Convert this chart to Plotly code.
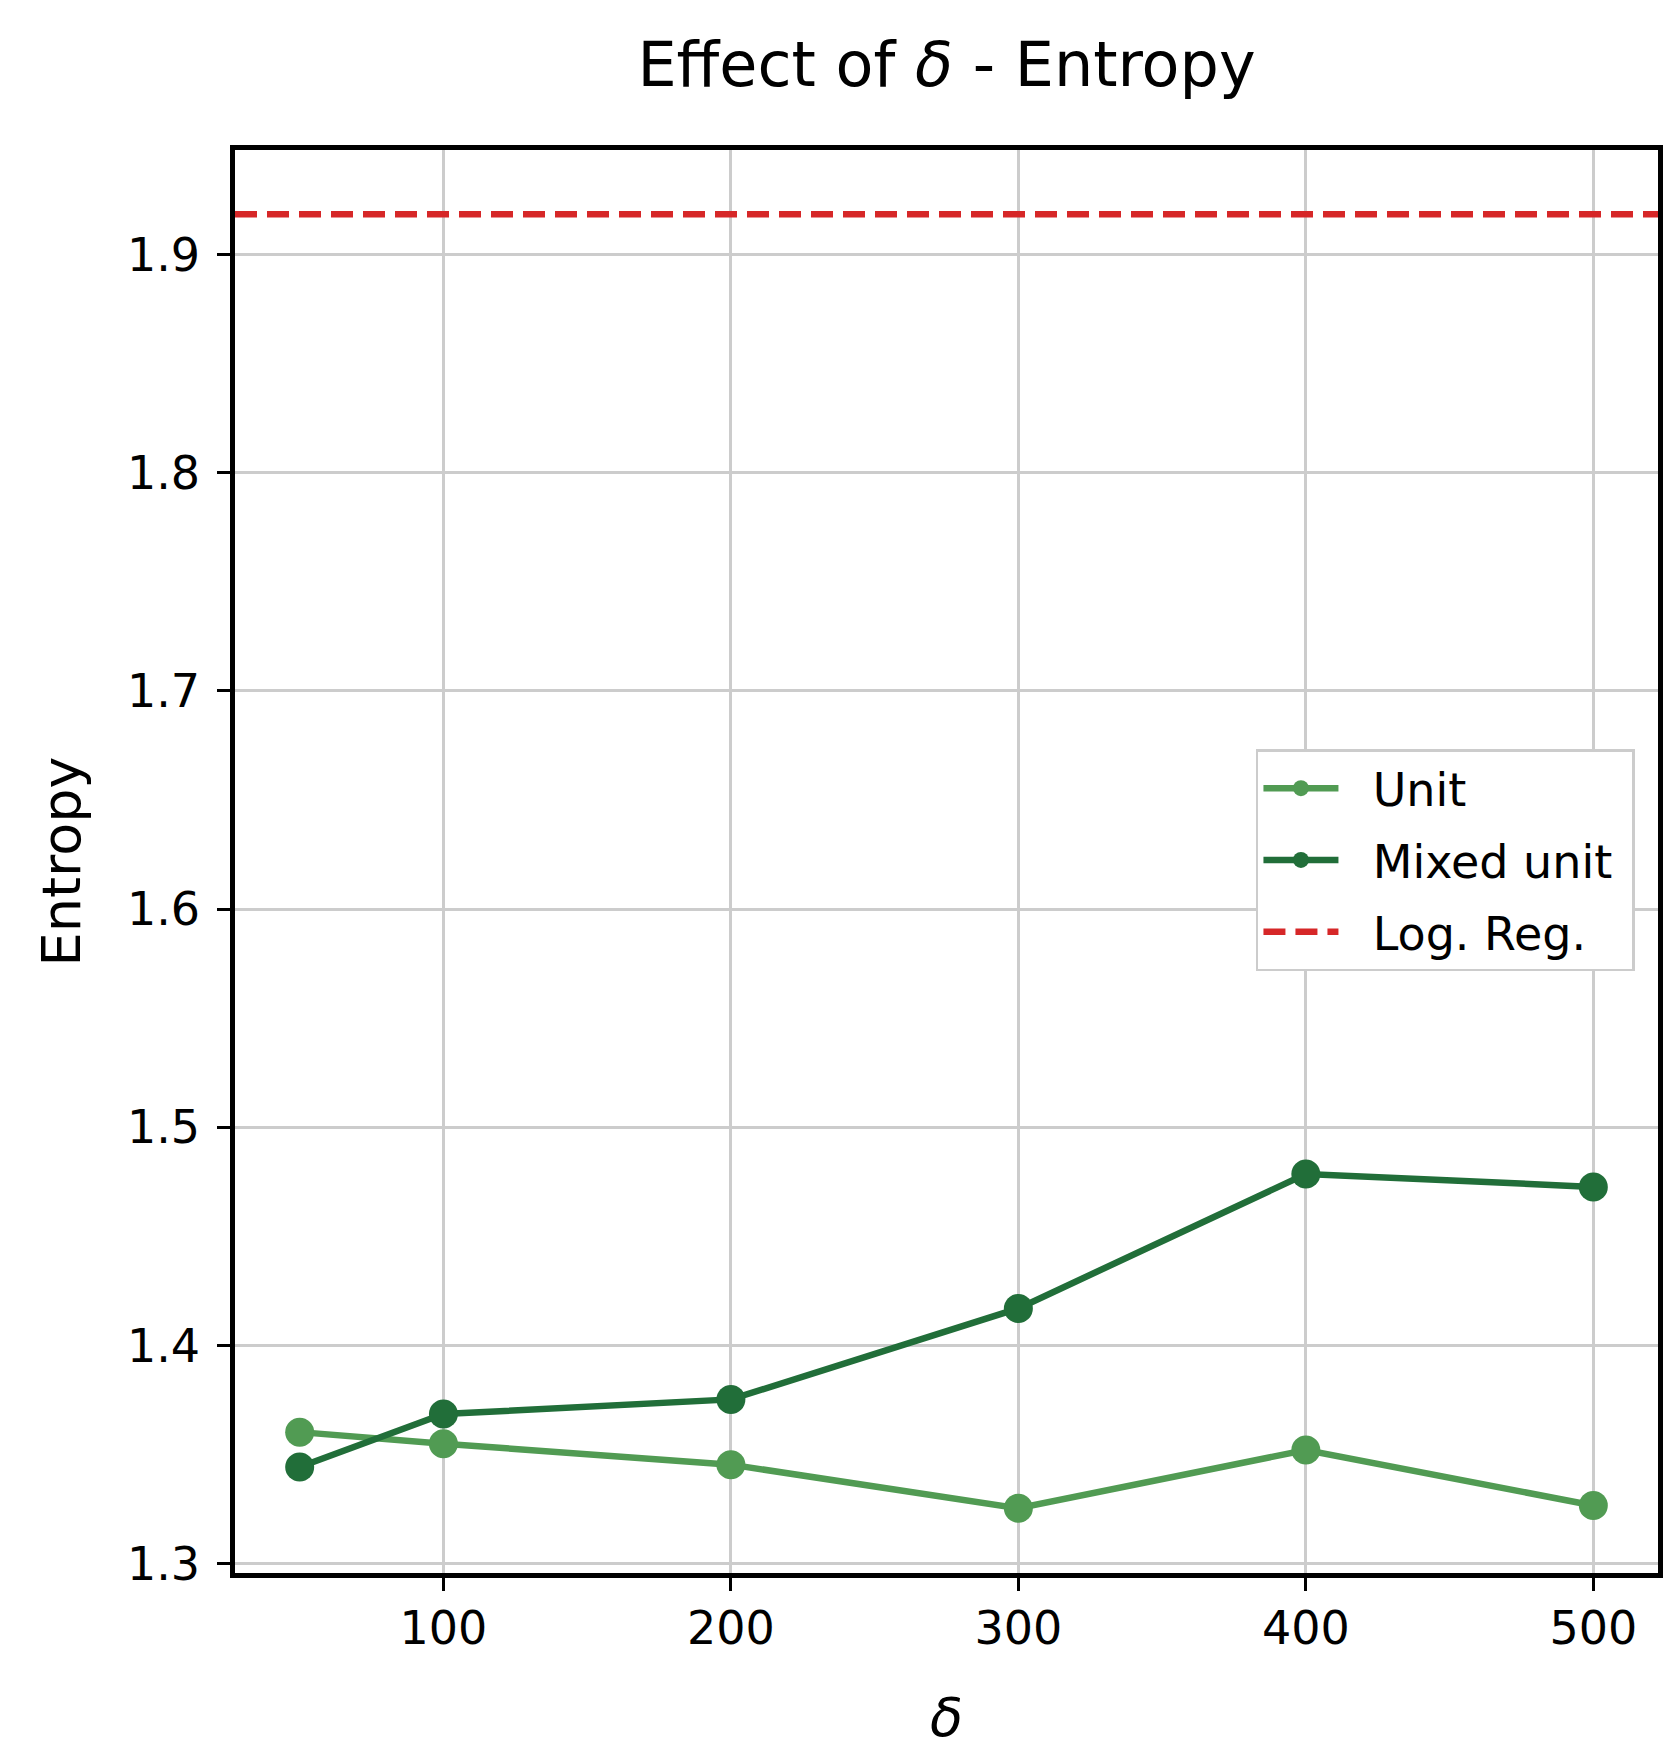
import plotly.graph_objects as go

delta = [50, 100, 200, 300, 400, 500]
unit_entropy = [1.3603, 1.3550, 1.3454, 1.3254, 1.3521, 1.3267]
mixed_unit_entropy = [1.3443, 1.3686, 1.3753, 1.4170, 1.4786, 1.4727]
log_reg_entropy = 1.9185
x_ticks = [100, 200, 300, 400, 500]
y_ticks = [1.3, 1.4, 1.5, 1.6, 1.7, 1.8, 1.9]
x_range = [27.5, 522.5]
y_range = [1.29574, 1.9479]
series_names = ["Unit", "Mixed unit", "Log. Reg."]

FONT = "DejaVu Sans"
C_UNIT = "#519b53"
C_MIXED = "#216e39"
C_RED = "#d62728"
SP = "\u00a0"


def legend_label(name):
    return SP * 2 + name + SP


fig = go.Figure()
fig.add_trace(go.Scatter(
    x=delta, y=unit_entropy, mode="lines+markers", name=legend_label(series_names[0]),
    line=dict(color=C_UNIT, width=6.5), marker=dict(color=C_UNIT, size=29),
    legendgroup="a"))
fig.add_trace(go.Scatter(
    x=delta, y=mixed_unit_entropy, mode="lines+markers", name=legend_label(series_names[1]),
    line=dict(color=C_MIXED, width=6.5), marker=dict(color=C_MIXED, size=29),
    legendgroup="b"))
fig.add_trace(go.Scatter(
    x=x_range, y=[log_reg_entropy, log_reg_entropy], mode="lines", name=legend_label(series_names[2]),
    line=dict(color=C_RED, width=6.5, dash="22px,10px"), legendgroup="c"))

axis_common = dict(
    showline=True, linecolor="black", linewidth=4.5, mirror=True,
    showgrid=True, gridcolor="#cccccc", gridwidth=3,
    ticks="outside", ticklen=13, tickwidth=3.3, tickcolor="black",
    tickfont=dict(family=FONT, size=46, color="black"),
    zeroline=False, automargin=False,
)

fig.update_xaxes(range=x_range, tickvals=x_ticks, ticktext=[str(v) for v in x_ticks],
                 title=dict(text="<i>δ</i>", font=dict(family=FONT, size=54, color="black"), standoff=46),
                 ticklabelstandoff=-2, **axis_common)
fig.update_yaxes(range=y_range, tickvals=y_ticks, ticktext=[f"{v:.1f}" for v in y_ticks],
                 title=dict(text="Entropy", font=dict(family=FONT, size=54, color="black"), standoff=30),
                 ticklabelstandoff=8, **axis_common)

fig.update_layout(
    width=1679, height=1763,
    margin=dict(l=227, r=29, t=142, b=198),
    paper_bgcolor="white", plot_bgcolor="white",
    title=dict(text="Effect of <i>δ</i> - Entropy", x=0.5, xref="paper",
               y=1 - 56 / 1763, yanchor="middle",
               font=dict(family=FONT, size=62, color="black")),
    legend=dict(x=0.9838, y=0.5789, xanchor="right", yanchor="top",
                bgcolor="white", bordercolor="#cccccc", borderwidth=2.5,
                font=dict(family=FONT, size=46, color="black"),
                itemwidth=75, tracegroupgap=9, traceorder="grouped"),
    showlegend=True,
)

fig.write_html("out.html")
